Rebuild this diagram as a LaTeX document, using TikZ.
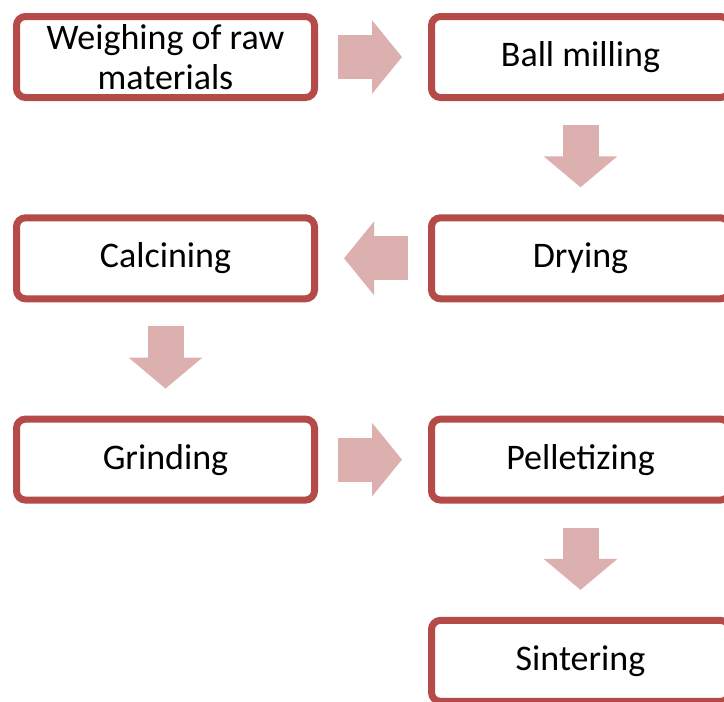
\documentclass[tikz,border=0pt]{standalone}
\usepackage{fontspec}
\setmainfont{Carlito}
\usetikzlibrary{arrows.meta,shadows}
\definecolor{boxcolor}{RGB}{180, 75, 72}
\definecolor{flowcolor}{RGB}{221, 176, 176}

\begin{document}
\begin{tikzpicture}[
    x=1pt, y=-1pt,
    stepbox/.style={draw=boxcolor, fill=white, line width=7pt,
      rounded corners=9pt, minimum width=298pt, minimum height=81pt,
      inner sep=0pt, align=center, font=\fontsize{36}{40}\selectfont,
      drop shadow={shadow xshift=2pt, shadow yshift=-2pt, opacity=0.25}},
    hflow/.style={flowcolor, line width=44pt,
      -{Triangle[length=30pt, width=72pt]},
      shorten <=20pt, shorten >=26pt},
    vflow/.style={flowcolor, line width=36pt,
      -{Triangle[length=31pt, width=72pt]},
      shorten <=24pt, shorten >=27pt},
  ]

  \def\colA{165.5}  % left column centre
  \def\colB{580.5}  % right column centre
  \def\rowsep{201.3} % vertical spacing

  \clip (0, 0) rectangle (724, 702);
  \fill[white] (0, 0) rectangle (724, 702);

  % --- Process steps ---
  \node[stepbox] (weigh)  at (\colA, 57) {Weighing of raw\\materials};
  \node[stepbox] (mill)   at (\colB, 57) {Ball milling};
  \node[stepbox] (dry)    at (\colB, 57+\rowsep) {Drying};
  \node[stepbox] (calc)   at (\colA, 57+\rowsep) {Calcining};
  \node[stepbox] (grind)  at (\colA, 57+2*\rowsep) {Grinding};
  \node[stepbox] (pellet) at (\colB, 57+2*\rowsep) {Pelletizing};
  \node[stepbox] (sinter) at (\colB, 57+3*\rowsep) {Sintering};

  % --- Flow arrows ---
  \draw[hflow] (weigh.east) -- (mill.west);
  \draw[vflow] (mill.south) -- (dry.north);
  \draw[hflow] (dry.west) -- (calc.east);
  \draw[vflow] (calc.south) -- (grind.north);
  \draw[hflow] (grind.east) -- (pellet.west);
  \draw[vflow] (pellet.south) -- (sinter.north);

\end{tikzpicture}
\end{document}
